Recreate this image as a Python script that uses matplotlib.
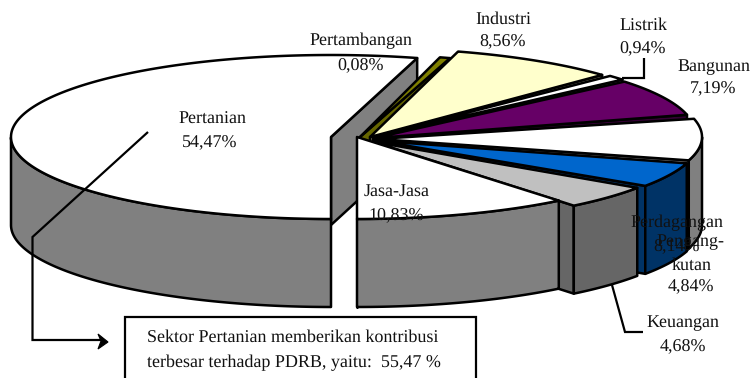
import numpy as np
import matplotlib
matplotlib.use('agg')
import matplotlib.pyplot as plt
from matplotlib.patches import Polygon, Rectangle

# sector shares (%), in the pie's drawing order
sectors = ['Pertanian', 'Pertambangan', 'Industri', 'Listrik', 'Bangunan',
           'Perdagangan', 'Pengangkutan', 'Keuangan', 'Jasa-Jasa']
shares = [54.47, 0.08, 8.56, 0.94, 7.19, 8.14, 4.84, 4.68, 10.83]
share_labels = ['54,47%', '0,08%', '8,56%', '0,94%', '7,19%', '8,14%', '4,84%', '4,68%', '10,83%']
note_lines = ['Sektor Pertanian memberikan kontribusi', 'terbesar terhadap PDRB, yaitu:  55,47 %']

# pixel layout of the exploded pie
RX, RY, DEPTH = 320, 82, 88
arc_centers = [(331, 137), (350, 136), (365, 130), (373, 131), (375, 133),
               (382, 137), (380, 140), (372, 142), (357, 137)]
apexes = [(331, 137), (360, 137), (370, 137), (373, 137), (375, 138),
          (377, 139), (379, 141), (374, 142), (357, 137)]
top_colors = ['white', '#808000', '#FFFFCC', 'white', '#660066',
              'white', '#0066CC', '#C0C0C0', 'white']
side_colors = ['#808080', '#666600', '#86866C', '#808080', '#330033',
               '#808080', '#003366', '#666666', '#808080']

plt.rcParams['font.family'] = ['Liberation Serif', 'DejaVu Serif']
plt.rcParams['text.hinting'] = 'no_hinting'
plt.rcParams['text.hinting_factor'] = 1
FS = 12.8
NOTE_FS = 13.2
LW = 1.8

fig = plt.figure(figsize=(7.5, 3.78), dpi=100)
ax = fig.add_axes([0, 0, 1, 1])
ax.set_xlim(0, 750)
ax.set_ylim(378, 0)
ax.axis('off')

# clockwise from 6 o'clock, angles in degrees
spans = np.array(shares) / sum(shares) * 360
ends = 270 - np.cumsum(spans)
starts = ends + spans


def rim(i, t):
    t = np.radians(t)
    cx, cy = arc_centers[i]
    return np.column_stack([cx + RX * np.cos(t), cy - RY * np.sin(t)])


def face(pts, color):
    ax.add_patch(Polygon(pts, closed=True, facecolor=color, edgecolor='black',
                         linewidth=LW, joinstyle='round'))


def draw_wedge(i):
    t1, t2 = starts[i], ends[i]
    if sectors[i] == 'Pertambangan':
        # far too thin to see at its true angle
        t1, t2 = t1 + 0.3, t2 - 1.3
    ts = np.linspace(t1, t2, 160)
    arc = rim(i, ts)
    apex = np.array([apexes[i]], dtype=float)
    down = np.array([0, DEPTH])

    # radial face along the clockwise edge
    face(np.vstack([apex, arc[-1:], arc[-1:] + down, apex + down]), side_colors[i])

    # outer wall, only the front half of the rim shows
    front = np.sin(np.radians(ts)) <= 0
    if front.any():
        a = arc[front]
        face(np.vstack([a, (a + down)[::-1]]), side_colors[i])

    face(np.vstack([apex, arc]), top_colors[i])


# back face of the pulled out Pertanian slice goes in first
ts0 = np.linspace(starts[0], ends[0] + 1.0, 300)
arc0 = rim(0, ts0)
p_rim = arc0[-1:]
p_apex = np.array([apexes[0]], dtype=float)
face(np.vstack([p_apex, p_rim, p_rim + [0, DEPTH], p_apex + [0, DEPTH]]), side_colors[0])

front0 = np.sin(np.radians(ts0)) <= 0
a0 = arc0[front0]
face(np.vstack([a0, (a0 + [0, DEPTH])[::-1]]), side_colors[0])
face(np.vstack([p_apex, arc0]), top_colors[0])

for i in range(1, len(sectors)):
    draw_wedge(i)

# leader lines
line_kw = dict(color='black', lw=1.6, solid_capstyle='butt', solid_joinstyle='miter')
ax.plot([644, 644, 622], [58, 78, 78], **line_kw)
ax.plot([612, 625, 643], [285, 332, 332], **line_kw)
ax.plot([148, 32.5, 32.5, 102], [132, 237, 340, 340], **line_kw)
ax.add_patch(Polygon([(98, 334), (108, 342), (98, 349), (101, 341)], closed=True,
                     facecolor='black', edgecolor='black', linewidth=0.8))

# note box runs off the bottom of the picture
ax.add_patch(Rectangle((125, 317), 351, 80, facecolor='white', edgecolor='black', linewidth=1.6))
ax.text(147, 338, note_lines[0], fontsize=NOTE_FS, va='center', ha='left', color='#111111')
ax.text(147, 363, note_lines[1], fontsize=NOTE_FS, va='center', ha='left', color='#111111')

labels = [
    ('Pertanian', 212, 120), (share_labels[0], 210, 143),
    ('Pertambangan', 361, 41), (share_labels[1], 361, 66),
    ('Industri', 503, 20), (share_labels[2], 503, 42),
    ('Listrik', 643, 26), (share_labels[3], 643, 49),
    ('Bangunan', 714, 67), (share_labels[4], 713, 89),
    ('Jasa-Jasa', 397, 192), (share_labels[8], 396, 216),
    ('Perdagangan', 677, 223), (share_labels[5], 677, 247),
    ('Pengang-', 690, 242), ('kutan', 692, 266), (share_labels[6], 691, 287),
    ('Keuangan', 683, 323), (share_labels[7], 683, 347),
]
for txt, x, y in labels:
    ax.text(x, y, txt, fontsize=FS, ha='center', va='center', color='#111111')

fig.savefig('out.png', dpi=100)
